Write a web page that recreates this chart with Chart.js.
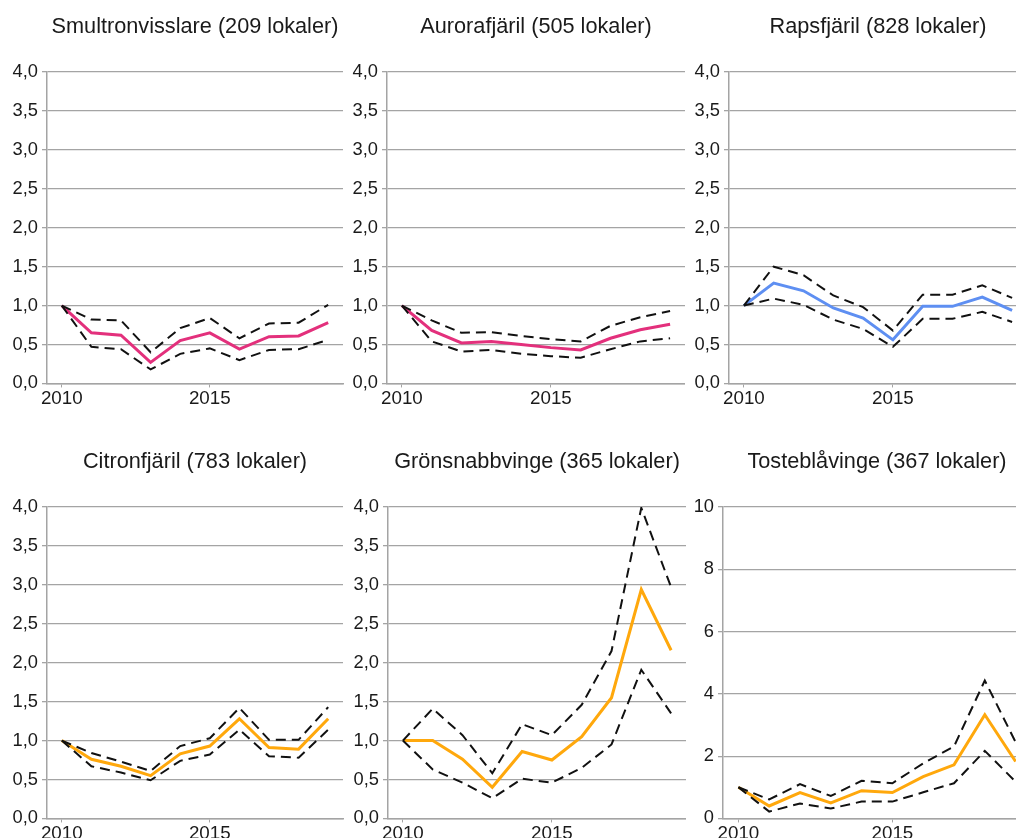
<!DOCTYPE html>
<html>
<head>
<meta charset="utf-8">
<script src="https://cdn.jsdelivr.net/npm/chart.js@4/dist/chart.umd.min.js"></script>
<style>
body { margin: 0; background: #fff; overflow: hidden; width: 1016px; height: 838px; position: relative; }
canvas { position: absolute; }
</style>
</head>
<body>
<canvas id="c1" width="345" height="410" style="left:0px;top:0px"></canvas>
<canvas id="c2" width="345" height="410" style="left:340px;top:0px"></canvas>
<canvas id="c3" width="345" height="410" style="left:682px;top:0px"></canvas>
<canvas id="c4" width="345" height="410" style="left:0px;top:435px"></canvas>
<canvas id="c5" width="345" height="410" style="left:341px;top:435px"></canvas>
<canvas id="c6" width="355" height="410" style="left:676px;top:435px"></canvas>
<script>
// years on the x axis, only 2010 and 2015 get a label
var years = ['2010', '2011', '2012', '2013', '2014', '2015', '2016', '2017', '2018', '2019'];
var shownYears = ['2010', '2015'];

// Smultronvisslare
var smultronMid  = [1.0, 0.65, 0.62, 0.27, 0.55, 0.65, 0.44, 0.60, 0.61, 0.78];
var smultronHigh = [1.0, 0.82, 0.81, 0.40, 0.71, 0.84, 0.58, 0.77, 0.78, 1.01];
var smultronLow  = [1.0, 0.47, 0.44, 0.18, 0.38, 0.45, 0.30, 0.43, 0.44, 0.56];

// Aurorafjäril
var auroraMid  = [1.0, 0.68, 0.52, 0.54, 0.50, 0.46, 0.43, 0.58, 0.69, 0.76];
var auroraHigh = [1.0, 0.81, 0.65, 0.66, 0.61, 0.57, 0.54, 0.74, 0.85, 0.93];
var auroraLow  = [1.0, 0.54, 0.41, 0.43, 0.38, 0.35, 0.33, 0.44, 0.54, 0.58];

// Rapsfjäril
var rapsMid  = [1.0, 1.29, 1.19, 0.97, 0.84, 0.56, 0.99, 0.99, 1.11, 0.94];
var rapsHigh = [1.0, 1.50, 1.39, 1.13, 0.98, 0.68, 1.14, 1.14, 1.26, 1.10];
var rapsLow  = [1.0, 1.09, 1.01, 0.82, 0.70, 0.47, 0.83, 0.83, 0.92, 0.79];

// Citronfjäril
var citronMid  = [1.0, 0.76, 0.67, 0.55, 0.83, 0.93, 1.28, 0.91, 0.89, 1.28];
var citronHigh = [1.0, 0.84, 0.73, 0.61, 0.93, 1.03, 1.42, 1.01, 1.01, 1.43];
var citronLow  = [1.0, 0.67, 0.59, 0.49, 0.74, 0.82, 1.14, 0.80, 0.78, 1.14];

// Grönsnabbvinge
var gronMid  = [1.0, 1.0, 0.76, 0.40, 0.86, 0.75, 1.05, 1.55, 2.94, 2.16];
var gronHigh = [1.0, 1.41, 1.07, 0.58, 1.21, 1.07, 1.46, 2.15, 3.99, 2.97];
var gronLow  = [1.0, 0.63, 0.46, 0.26, 0.51, 0.46, 0.65, 0.95, 1.91, 1.35];

// Tosteblåvinge
var tosteMid  = [1.0, 0.40, 0.83, 0.50, 0.89, 0.83, 1.34, 1.72, 3.33, 1.83];
var tosteHigh = [1.0, 0.61, 1.10, 0.72, 1.21, 1.13, 1.77, 2.31, 4.43, 2.45];
var tosteLow  = [1.0, 0.22, 0.48, 0.32, 0.54, 0.54, 0.84, 1.13, 2.17, 1.18];

var pink = '#e3307c';
var blue = '#5e8ff2';
var orange = '#ffa80c';
var gridGray = '#a4a4a4';
var font = 'Liberation Sans, Arial, sans-serif';

function makeChart(id, title, mid, high, low, color, yMax, yStep, padRight) {
    var ctx = document.getElementById(id).getContext('2d');
    return new Chart(ctx, {
        type: 'line',
        data: {
            labels: years,
            datasets: [
                { data: mid, borderColor: color, borderWidth: 3, pointRadius: 0, tension: 0, order: 2 },
                { data: high, borderColor: '#111', borderWidth: 2, borderDash: [10, 6], pointRadius: 0, tension: 0, order: 1 },
                { data: low, borderColor: '#111', borderWidth: 2, borderDash: [10, 6], pointRadius: 0, tension: 0, order: 1 }
            ]
        },
        options: {
            responsive: false,
            animation: false,
            devicePixelRatio: 1,
            layout: { padding: { left: 0, right: padRight, top: 0, bottom: 0 } },
            plugins: {
                legend: { display: false },
                tooltip: { enabled: false },
                title: {
                    display: true,
                    fullSize: false,
                    text: title,
                    color: '#1a1a1a',
                    font: { family: font, size: 21.7, weight: 'normal' },
                    padding: { top: 14, bottom: 32 }
                }
            },
            scales: {
                x: {
                    offset: true,
                    border: { color: gridGray, width: 1.5 },
                    grid: {
                        drawOnChartArea: false,
                        drawTicks: true,
                        tickLength: 4,
                        offset: false,
                        color: function(c) { return c.tick && c.tick.label ? gridGray : 'rgba(0,0,0,0)'; }
                    },
                    ticks: {
                        autoSkip: false,
                        maxRotation: 0,
                        padding: 0,
                        color: '#1a1a1a',
                        font: { family: font, size: 18.8 },
                        callback: function(v, i) {
                            var y = years[i];
                            return shownYears.indexOf(y) >= 0 ? y : '';
                        }
                    }
                },
                y: {
                    min: 0,
                    max: yMax,
                    border: { color: gridGray, width: 1.5 },
                    grid: { color: gridGray, lineWidth: 1.3, tickLength: 5 },
                    afterFit: function(scale) { scale.width = 47; },
                    ticks: {
                        stepSize: yStep,
                        padding: 4,
                        color: '#1a1a1a',
                        font: { family: font, size: 18.3 },
                        callback: function(v) {
                            return yMax > 5 ? String(v) : v.toFixed(1).replace('.', ',');
                        }
                    }
                }
            }
        }
    });
}

makeChart('c1', 'Smultronvisslare (209 lokaler)', smultronMid, smultronHigh, smultronLow, pink, 4, 0.5, 2);
makeChart('c2', 'Aurorafjäril (505 lokaler)', auroraMid, auroraHigh, auroraLow, pink, 4, 0.5, 0);
makeChart('c3', 'Rapsfjäril (828 lokaler)', rapsMid, rapsHigh, rapsLow, blue, 4, 0.5, 0);
makeChart('c4', 'Citronfjäril (783 lokaler)', citronMid, citronHigh, citronLow, orange, 4, 0.5, 2);
makeChart('c5', 'Grönsnabbvinge (365 lokaler)', gronMid, gronHigh, gronLow, orange, 4, 0.5, 0);
makeChart('c6', 'Tosteblåvinge (367 lokaler)', tosteMid, tosteHigh, tosteLow, orange, 10, 2, 0);
</script>
</body>
</html>
